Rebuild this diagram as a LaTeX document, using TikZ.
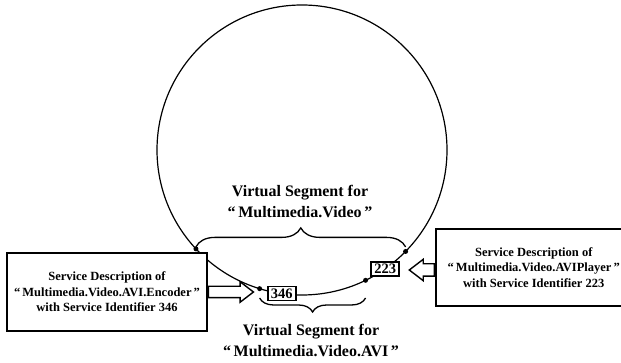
\documentclass[tikz,border=0pt]{standalone}
\usepackage{fontspec}
\setmainfont{Liberation Serif}
\usetikzlibrary{shapes,arrows,positioning,decorations.pathreplacing}
\tikzstyle{descbox} = [draw,line width=1.5pt,rectangle,fill=white,align=center,inner sep=0,font=\fontsize{12.5}{15.5}\selectfont\bfseries]
\tikzstyle{idbox} = [draw,line width=1.5pt,rectangle,fill=white,inner xsep=2pt,inner ysep=0,minimum width=28pt,minimum height=14pt,font=\fontsize{14.5}{14.5}\selectfont\bfseries]
\tikzstyle{blockarrow} = [draw,line width=1.4pt,single arrow,fill=white,inner sep=0,text depth=0,minimum width=0,single arrow tip angle=75,single arrow head extend=4.5pt]
\tikzstyle{segbrace} = [decorate,line width=1.3pt]
\tikzstyle{seglabel} = [align=center,inner sep=0,font=\fontsize{16}{21}\selectfont\bfseries]
\tikzstyle{site} = [circle,fill=black,inner sep=0,minimum size=5pt]
\def \rr {145pt}

\begin{document}
\begin{tikzpicture}[x=1pt,y=1pt]
      \useasboundingbox (0,0) rectangle (621,363);
      \coordinate (c) at (302,213);
      \draw[line width=1.2pt] (c) circle (\rr);
      \node[site] (d1) at ([shift={(c)}]223:\rr) {};
      \node[site] (d2) at ([shift={(c)}]253:\rr) {};
      \node[site] (d3) at ([shift={(c)}]296:\rr) {};
      \node[site] (d4) at ([shift={(c)}]315.6:\rr) {};
      \node[idbox] (id346) at ([shift={(c)}]262:\rr) {346};
      \node[idbox] (id223) at ([shift={(c)}]305:\rr) {223};
      \node[descbox,minimum width=200pt,minimum height=78pt] (encoder) at (107,71)
        {Service Description of\\“\,Multimedia.Video.AVI.Encoder\,”\\with Service Identifier 346};
      \node[blockarrow,anchor=tail,minimum height=45pt,text height=10pt] (encarrow) at (encoder.east) {};
      \node[descbox,anchor=west,minimum width=196pt,minimum height=77pt] (player) at (435,95.5)
        {Service Description of\\“\,Multimedia.Video.AVIPlayer\,”\\with Service Identifier 223};
      \node[blockarrow,anchor=tail,shape border rotate=180,minimum height=25pt,text height=11pt] (playarrow) at ([yshift=-2.5pt]player.west) {};
      \coordinate (b1) at ([yshift=2pt]d1.center);
      \coordinate (b2) at (b1 -| d4);
      \draw[segbrace,decoration={brace,amplitude=19pt}] (b1) -- (b2);
      \coordinate (b3) at (d3 |- 0,65);
      \coordinate (b4) at (d2 |- 0,65);
      \draw[segbrace,decoration={brace,amplitude=14pt}] (b3) -- (b4);
      \node[seglabel] (toplabel) at (300,162) {Virtual Segment for\\“\,Multimedia.Video\,”};
      \node[seglabel] (botlabel) at (311,23) {Virtual Segment for\\“\,Multimedia.Video.AVI\,”};
\end{tikzpicture}
\end{document}
